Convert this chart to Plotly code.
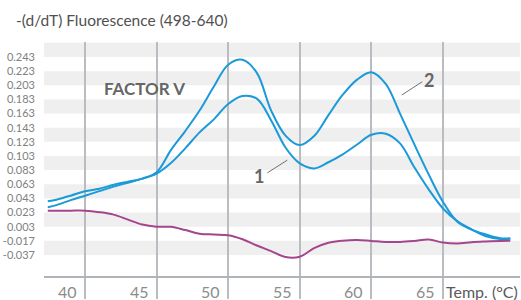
import plotly.graph_objects as go

# ---- data ----
temp_a = [37.4, 38, 39, 40, 41, 42, 43, 44, 45, 46, 47, 48, 49, 50, 51, 52, 53, 54, 55,
          56, 57, 58, 59, 60, 61, 62, 63, 64, 65, 66, 67, 68, 69, 69.7]
curve2 = [0.0305, 0.0334, 0.0405, 0.0468, 0.0532, 0.0596, 0.0652, 0.0709, 0.0801, 0.1113, 0.1382,
          0.1672, 0.2012, 0.2320, 0.2390, 0.2206, 0.1672, 0.1318, 0.1184,
          0.1311, 0.1608, 0.1896, 0.2110, 0.2215, 0.2050, 0.1628, 0.1193, 0.0769, 0.0380,
          0.0100, -0.0012, -0.0081, -0.0134, -0.0134]

temp_b = [37.4, 38, 39, 40, 41, 42, 43, 44, 45, 46, 47, 48, 49, 50, 51, 52, 53, 54, 55, 56,
          57, 58, 59, 60, 61, 62, 63, 64, 65, 66, 67, 68, 69, 69.7]
curve1 = [0.0390, 0.0412, 0.0468, 0.0532, 0.0566, 0.0624, 0.0667, 0.0709, 0.0780, 0.0929, 0.1138,
          0.1363, 0.1548, 0.1764, 0.1878, 0.1840, 0.1532, 0.1150, 0.0924, 0.0854,
          0.0941, 0.1053, 0.1192, 0.1330, 0.1345, 0.1208, 0.0869, 0.0557, 0.0287, 0.0108,
          -0.0010, -0.0105, -0.0145, -0.0141]

temp_c = [37.4, 38, 39, 40, 41, 42, 43, 44, 45, 46, 47, 48, 49, 50, 51, 52, 53, 54, 55, 56,
          57, 58, 59, 60, 61, 62, 63, 64, 65, 66, 67, 68, 69, 69.7]
control = [0.0256, 0.0256, 0.0256, 0.0256, 0.0235, 0.0200, 0.0130, 0.0060, 0.0029, 0.0028, -0.0018,
           -0.0069, -0.0081, -0.0091, -0.0148, -0.0237, -0.0316, -0.0400, -0.0395, -0.0274,
           -0.0197, -0.0168, -0.0159, -0.0172, -0.0186, -0.0187, -0.0173, -0.0152, -0.0195, -0.0209,
           -0.0190, -0.0180, -0.0173, -0.0169]

y_ticks = [0.243, 0.223, 0.203, 0.183, 0.163, 0.143, 0.123, 0.103, 0.083, 0.063, 0.043, 0.023,
           0.003, -0.017, -0.037]
y_ticktext = ["0.243", "0.223", "0.203", "0.183", "0.163", "0.143", "0.123", "0.103", "0.083",
              "0.063", "0.043", "0.023", "0.003", "-0.017", "-0.037"]
band_low = [0.243, 0.203, 0.163, 0.123, 0.083, 0.043, 0.003, -0.037]
band_high = [0.263, 0.223, 0.183, 0.143, 0.103, 0.063, 0.023, -0.017]
x_ticks = [40, 45, 50, 55, 60, 65]
x_ticktext = ["40", "45", "50", "55", "60", "65"]

FONT = "Lato"
BLUE = "#1a9ad8"
PURPLE = "#a3468e"
GRID = "#b9bdc2"

fig = go.Figure()
fig.add_trace(go.Scatter(x=temp_b, y=curve1, mode="lines",
                         line=dict(color=BLUE, width=2, shape="spline", smoothing=1),
                         showlegend=False, hoverinfo="skip"))
fig.add_trace(go.Scatter(x=temp_a, y=curve2, mode="lines",
                         line=dict(color=BLUE, width=2, shape="spline", smoothing=1),
                         showlegend=False, hoverinfo="skip"))
fig.add_trace(go.Scatter(x=temp_c, y=control, mode="lines",
                         line=dict(color=PURPLE, width=2, shape="spline", smoothing=1),
                         showlegend=False, hoverinfo="skip"))

shapes = []
for lo, hi in zip(band_low, band_high):
    shapes.append(dict(type="rect", xref="paper", yref="y", x0=0, x1=1, y0=lo, y1=hi,
                       fillcolor="#efefef", line=dict(width=0), layer="below"))
# callout lines
shapes.append(dict(type="line", xref="x", yref="y", x0=62.12, y0=0.1892, x1=63.55, y1=0.2080,
                   line=dict(color="#707070", width=1)))
shapes.append(dict(type="line", xref="x", yref="y", x0=52.73, y0=0.0791, x1=54.13, y1=0.0971,
                   line=dict(color="#707070", width=1)))

annotations = []
for v, t in zip(x_ticks, x_ticktext):
    annotations.append(dict(x=v, xref="x", y=-0.0676, yref="paper", text=t, showarrow=False,
                            xanchor="right", yanchor="middle", xshift=-6,
                            font=dict(family=FONT, size=16, color="#8c8c8c")))
annotations.append(dict(x=1, xref="paper", y=-0.0676, yref="paper", text="Temp. (°C)", showarrow=False,
                        xanchor="right", yanchor="middle", xshift=0,
                        font=dict(family=FONT, size=16, color="#5a5a5a")))
annotations.append(dict(x=44.12, y=0.1991, xref="x", yref="y", text="<b>FACTOR V</b>", showarrow=False,
                        font=dict(family=FONT, size=17, color="#666666")))
annotations.append(dict(x=63.99, y=0.2111, xref="x", yref="y", text="<b>2</b>", showarrow=False,
                        font=dict(family=FONT, size=18, color="#666666")))
annotations.append(dict(x=52.15, y=0.0745, xref="x", yref="y", text="<b>1</b>", showarrow=False,
                        font=dict(family=FONT, size=18, color="#666666")))

fig.update_layout(
    width=521, height=300,
    margin=dict(l=44, r=1, t=42, b=24),
    paper_bgcolor="white", plot_bgcolor="white",
    title=dict(text="-(d/dT) Fluorescence (498-640)", x=16 / 521, xanchor="left",
               y=1 - 21 / 300, yanchor="middle",
               font=dict(family=FONT, size=15.5, color="#505050")),
    xaxis=dict(range=[37.137, 70.377], tickvals=x_ticks, showticklabels=False,
               showgrid=True, gridcolor=GRID, gridwidth=2, zeroline=False,
               ticks="outside", ticklen=21, tickwidth=2, tickcolor=GRID,
               showline=True, linecolor="#b0b4b9", linewidth=2, fixedrange=True),
    yaxis=dict(range=[-0.0668, 0.2642], tickvals=y_ticks, ticktext=y_ticktext,
               showgrid=False, zeroline=False, showline=False, ticks="",
               ticklabelstandoff=8,
               tickfont=dict(family=FONT, size=11, color="#808080"), fixedrange=True),
    shapes=shapes, annotations=annotations,
)

fig.write_html("out.html", config={"displayModeBar": False},
               post_script="document.body.style.margin='0';document.body.style.overflow='hidden';")
